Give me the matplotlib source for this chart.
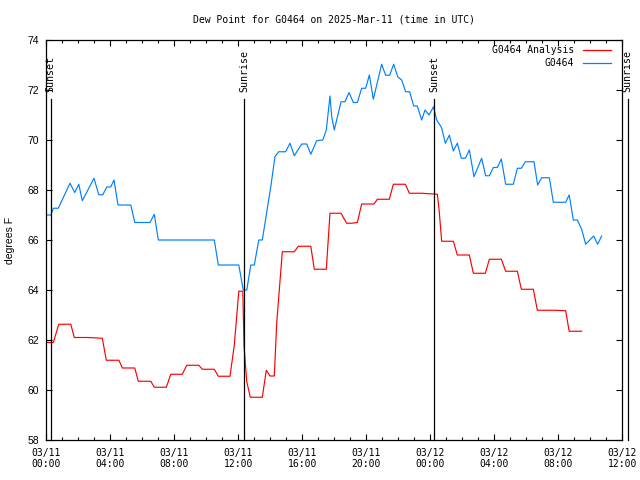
import matplotlib
matplotlib.use("Agg")
import matplotlib.pyplot as plt
import matplotlib.transforms as mtransforms
from matplotlib.ticker import MultipleLocator, FixedLocator

# ---- data (hours since 03/11 00:00 UTC) ----
obs_hours = [0.02, 0.29, 0.44, 0.75, 1.48, 1.78, 2.03, 2.25, 2.98, 3.28, 3.53, 3.78, 4.03,
             4.23, 4.48, 5.28, 5.53, 6.48, 6.75, 7.0, 10.5, 10.75, 12.03, 12.31, 12.53,
             12.78, 13.0, 13.28, 13.5, 14.03, 14.29, 14.52, 14.96, 15.23, 15.5, 15.96,
             16.28, 16.53, 16.9, 17.28, 17.5, 17.73, 17.84, 18.0, 18.42, 18.67, 18.92,
             19.19, 19.44, 19.71, 19.96, 20.19, 20.44, 20.96, 21.21, 21.46, 21.71, 21.96,
             22.21, 22.46, 22.71, 22.96, 23.19, 23.46, 23.67, 23.92, 24.2, 24.4, 24.7,
             24.94, 25.19, 25.44, 25.69, 25.94, 26.19, 26.44, 26.73, 27.21, 27.46, 27.69,
             27.94, 28.19, 28.44, 28.71, 29.19, 29.44, 29.69, 29.94, 30.48, 30.71, 30.96,
             31.44, 31.69, 32.46, 32.68, 32.94, 33.19, 33.46, 33.71, 34.21, 34.46, 34.71]
obs_dewpt = [67.0, 67.0, 67.27, 67.27, 68.27, 67.9, 68.23, 67.57, 68.47, 67.81, 67.81, 68.12,
             68.12, 68.4, 67.4, 67.4, 66.7, 66.7, 67.03, 66.0, 66.0, 65.0, 65.0, 64.0, 64.0,
             65.0, 65.0, 66.0, 66.0, 68.13, 69.33, 69.53, 69.53, 69.87, 69.37, 69.84,
             69.84, 69.43, 69.97, 70.0, 70.4, 71.76, 70.93, 70.4, 71.53, 71.53, 71.9,
             71.5, 71.5, 72.07, 72.07, 72.6, 71.63, 73.03, 72.59, 72.59, 73.03, 72.53,
             72.4, 71.93, 71.93, 71.36, 71.36, 70.8, 71.2, 71.0, 71.33, 70.8, 70.5,
             69.87, 70.19, 69.56, 69.87, 69.27, 69.27, 69.6, 68.53, 69.27, 68.57, 68.57,
             68.9, 68.9, 69.24, 68.23, 68.23, 68.87, 68.87, 69.13, 69.13, 68.2, 68.49,
             68.49, 67.51, 67.51, 67.8, 66.8, 66.8, 66.43, 65.83, 66.16, 65.83, 66.16]

ana_hours = [0.02, 0.44, 0.78, 1.53, 1.75, 2.59, 3.5, 3.75, 4.54, 4.75, 5.53, 5.75, 6.53,
             6.75, 7.5, 7.78, 8.5, 8.78, 9.53, 9.75, 10.5, 10.75, 11.48, 11.75, 12.03,
             12.28, 12.36, 12.53, 12.75, 13.5, 13.75, 13.98, 14.25, 14.4, 14.75, 15.5,
             15.75, 16.53, 16.75, 17.5, 17.73, 18.42, 18.77, 19.08, 19.44, 19.71, 20.48,
             20.69, 21.44, 21.69, 22.44, 22.69, 23.46, 24.44, 24.56, 24.71, 25.44, 25.69,
             26.44, 26.69, 27.44, 27.69, 28.44, 28.71, 29.44, 29.69, 30.44, 30.69, 31.81,
             32.46, 32.68, 33.46]
ana_dewpt = [61.9, 61.9, 62.63, 62.63, 62.1, 62.1, 62.07, 61.19, 61.19, 60.88, 60.88, 60.35,
             60.35, 60.11, 60.11, 60.63, 60.63, 60.99, 60.99, 60.83, 60.83, 60.55, 60.55,
             61.8, 63.95, 63.95, 61.73, 60.33, 59.71, 59.71, 60.79, 60.56, 60.56, 62.67,
             65.53, 65.53, 65.75, 65.75, 64.83, 64.83, 67.07, 67.07, 66.67, 66.67, 66.7,
             67.44, 67.44, 67.63, 67.63, 68.23, 68.23, 67.87, 67.87, 67.83, 67.13, 65.95,
             65.95, 65.4, 65.4, 64.67, 64.67, 65.23, 65.23, 64.75, 64.75, 64.03, 64.03,
             63.19, 63.19, 63.17, 62.35, 62.35]

sun_hours = [0.275, 12.375, 24.25, 36.33]
sun_labels = ["Sunset", "Sunrise", "Sunset", "Sunrise"]

tick_hours = [0, 4, 8, 12, 16, 20, 24, 28, 32, 36]
tick_labels = ["03/11\n00:00", "03/11\n04:00", "03/11\n08:00", "03/11\n12:00", "03/11\n16:00",
               "03/11\n20:00", "03/12\n00:00", "03/12\n04:00", "03/12\n08:00", "03/12\n12:00"]

series_names = ["G0464 Analysis", "G0464"]
series_colors = ["#ff0000", "#0080ff"]

MONO = "DejaVu Sans Mono"
SANS = "Liberation Sans"

fig = plt.figure(figsize=(6.4, 4.8), dpi=100)
ax = fig.add_axes([46.3 / 640, 40 / 480, 576 / 640, 400 / 480])

ax.plot(ana_hours, ana_dewpt, color=series_colors[0], lw=0.85)
ax.plot(obs_hours, obs_dewpt, color=series_colors[1], lw=0.85)

ax.set_xlim(0, 36)
ax.set_ylim(58, 74)

trans = mtransforms.blended_transform_factory(ax.transData, ax.transAxes)
for h, lab in zip(sun_hours, sun_labels):
    ax.plot([h, h], [0, 0.8525], color="black", lw=0.9, transform=trans, clip_on=False, zorder=5)
    ax.text(h, 0.87, lab, rotation=90, ha="center", va="bottom", transform=trans,
            fontsize=7.2, family=MONO, clip_on=False)

# legend (manual, right-aligned text like the reference)
for i, (name, col) in enumerate(zip(series_names, series_colors)):
    yy = 0.975 - i * 0.032
    ax.text(0.916, yy, name, ha="right", va="center", transform=ax.transAxes,
            fontsize=7, family=MONO)
    ax.plot([0.932, 0.981], [yy, yy], color=col, lw=0.9, transform=ax.transAxes)

ax.xaxis.set_major_locator(FixedLocator(tick_hours))
ax.set_xticklabels(tick_labels, family=MONO, fontsize=7, linespacing=1.1)
ax.xaxis.set_minor_locator(MultipleLocator(1))
ax.yaxis.set_major_locator(MultipleLocator(2))
for lab in ax.get_yticklabels():
    lab.set_family(SANS)
    lab.set_fontsize(7.5)

ax.tick_params(axis="both", which="both", direction="in", top=True, right=True, width=0.8)
ax.tick_params(axis="both", which="major", length=4)
ax.tick_params(axis="both", which="minor", length=2.5)
ax.tick_params(axis="x", which="major", pad=6)
ax.tick_params(axis="y", which="major", pad=5)
for s in ax.spines.values():
    s.set_linewidth(0.9)

ax.set_ylabel("degrees F", family=SANS, fontsize=7.5, labelpad=9)
fig.text(334 / 640, 1 - 20 / 480, "Dew Point for G0464 on 2025-Mar-11 (time in UTC)",
         ha="center", va="center", family=MONO, fontsize=7)

fig.savefig("out.png", dpi=100)
